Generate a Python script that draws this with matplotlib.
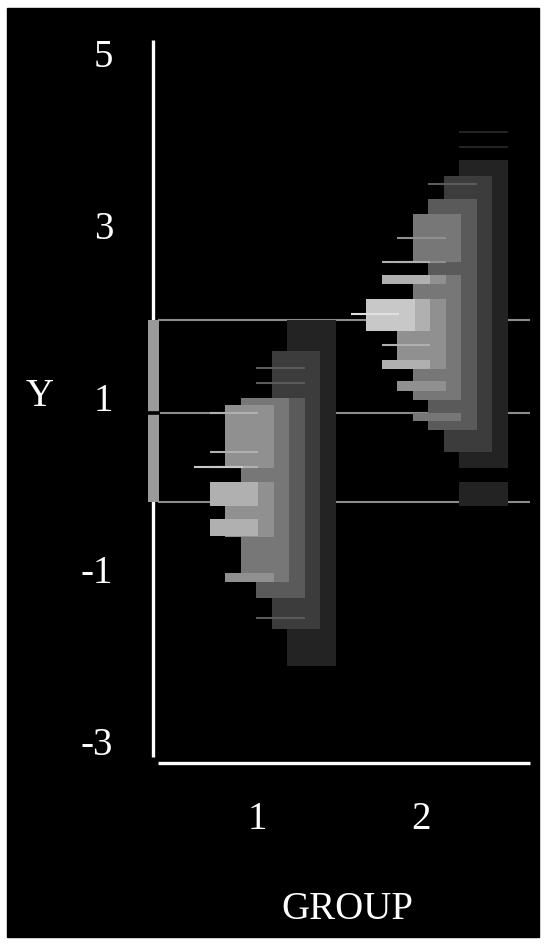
import matplotlib
matplotlib.use("Agg")
from matplotlib import pyplot as plt
from matplotlib.patches import Rectangle

# Y spans per shading level (darkest level first), one list per group
g1_spans = [
    [(-2.13, 1.90)],
    [(-1.70, 1.54)],
    [(-1.34, 0.985)],
    [(-1.15, 0.985)],
    [(0.17, 0.907), (-0.626, 0.014), (-1.15, -1.045)],
    [(-0.269, 0.014), (-0.618, -0.417)],
    [],
]
g2_spans = [
    [(0.17, 3.759), (-0.269, 0.014)],
    [(0.356, 3.576)],
    [(0.612, 3.305)],
    [(2.568, 3.134), (0.965, 2.42), (0.717, 0.817)],
    [(2.312, 2.42), (1.322, 2.141), (1.073, 1.183)],
    [(2.312, 2.42), (1.768, 2.141), (1.322, 1.431)],
    [(1.768, 2.141)],
    [],
]

# single values shown as thin strokes, per level
g1_marks = [[], [], [1.334, 1.166, -1.573], [], [], [0.81, 0.363, 0.182], [0.182]]
g2_marks = [[4.089, 3.91], [], [3.48], [], [2.847, 2.575], [2.575, 1.609], [], [1.966]]

groups = [1, 2]
ref_lines = [1.896, 0.817, -0.22]   # upper, middle, lower reference values
y_ticks = [5, 3, 1, -1, -3]

shades = ['#232323', '#3c3c3c', '#5a5a5a', '#777777',
          '#909090', '#b0b0b0', '#c8c8c8', '#e0e0e0']

step = 0.0945     # horizontal shift between levels
w = 0.296         # column width
shift = 0.05

fig = plt.figure(figsize=(5.46, 9.44), dpi=100, facecolor='white')
fig.patches.append(Rectangle((7 / 546, 7 / 944), 532 / 546, 929 / 944,
                             transform=fig.transFigure, color='black', zorder=-10))
ax = fig.add_axes([140 / 546, 164 / 944, 400 / 546, 760 / 944])
ax.patch.set_visible(False)
ax.set_xlim(0.2866, 2.7256)
ax.set_ylim(-3.459, 5.389)
for s in ax.spines.values():
    s.set_visible(False)

# reference lines behind the columns
for v in ref_lines:
    ax.plot([0.396, 2.665], [v, v], color='#8c8c8c', lw=1.5, zorder=1,
            solid_capstyle='butt')

# axis lines
ax.plot([0.366, 0.366], [-3.19, 5.156], color='white', lw=2.4, zorder=5,
        solid_capstyle='butt', clip_on=False)
ax.plot([0.396, 2.665], [-3.261, -3.261], color='white', lw=2.4, zorder=5,
        solid_capstyle='butt', clip_on=False)

# box on the Y axis between the reference values, split at the middle one
ax.bar(0.3372, ref_lines[0] - ref_lines[2], bottom=ref_lines[2], width=0.065,
       align='edge', color='#9a9a9a', linewidth=0, zorder=6)
ax.plot([0.33, 0.41], [ref_lines[1], ref_lines[1]], color='black', lw=2.6,
        zorder=7, solid_capstyle='butt')

for g, spans, marks in [(groups[0], g1_spans, g1_marks), (groups[1], g2_spans, g2_marks)]:
    n = len(spans)
    right0 = g + shift + ((n - 1) * step + w) / 2
    for k in range(n):
        left = right0 - k * step - w
        for lo, hi in spans[k]:
            ax.bar(left, hi - lo, bottom=lo, width=w, align='edge',
                   color=shades[k], linewidth=0, zorder=2 + k)
        for v in marks[k]:
            ax.plot([left, left + w], [v, v], color=shades[k], lw=1.5,
                    zorder=2 + k, solid_capstyle='butt')

font = 'Liberation Serif'
ax.set_yticks(y_ticks)
ax.set_yticklabels([str(t) for t in y_ticks], fontfamily=font, fontsize=28)
ax.set_xticks(groups)
ax.set_xticklabels([str(g) for g in groups], fontfamily=font, fontsize=28)
ax.tick_params(axis='y', length=0, pad=19.4, labelcolor='white')
ax.tick_params(axis='x', length=0, pad=15, labelcolor='white')

ax.set_ylabel('Y', rotation=0, fontfamily=font, fontsize=28, color='white',
              ha='center', va='center')
ax.yaxis.set_label_coords(-0.25, 0.504)
ax.set_xlabel('GROUP', fontfamily=font, fontsize=28, color='white',
              ha='center', va='center')
ax.xaxis.set_label_coords(0.5175, -0.17)

fig.savefig('out.png', dpi=100, facecolor='white')
